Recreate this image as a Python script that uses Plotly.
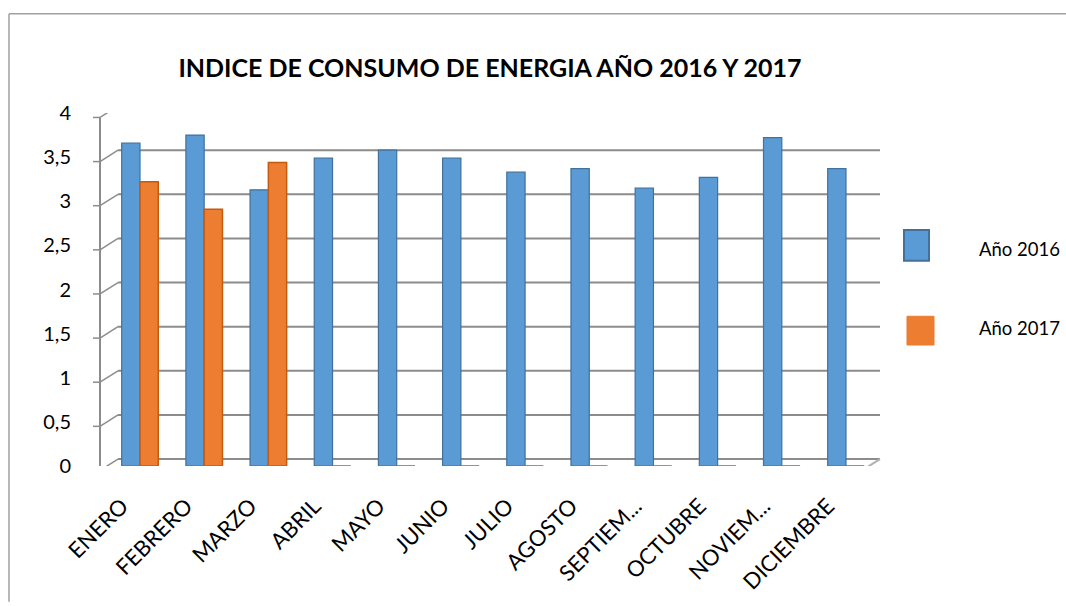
import plotly.graph_objects as go

months = ["ENERO", "FEBRERO", "MARZO", "ABRIL", "MAYO", "JUNIO", "JULIO",
          "AGOSTO", "SEPTIEM...", "OCTUBRE", "NOVIEM...", "DICIEMBRE"]
y2016 = [3.66, 3.75, 3.13, 3.49, 3.58, 3.49, 3.33, 3.37, 3.15, 3.27, 3.72, 3.37]
y2017 = [3.22, 2.91, 3.44, 0, 0, 0, 0, 0, 0, 0, 0, 0]
yticks = [0, 0.5, 1, 1.5, 2, 2.5, 3, 3.5, 4]
series_names = ["Año 2016", "Año 2017"]
title_text = "INDICE DE CONSUMO DE ENERGIA AÑO 2016 Y 2017"

W, H = 1066, 606
L, R, T, B = 100, 186, 113, 137
PW = W - L - R
PH = H - T - B
YMAX = 4
PXU = PH / YMAX          # pixels per y unit

def px(x):
    return (x - L) / PW

def py(y):
    return (H - B - y) / PH

DX = 18                  # 3D depth offset (pixels)
BACK = 7 / PXU           # back wall offset in y units
FRONT = -4.5 / PXU       # front plane offset in y units
GRID = "#8c8c8c"

BLUE, BLUE_LINE = "#5B9BD5", "#41719C"
ORANGE, ORANGE_LINE = "#ED7D31", "#C55A11"

fig = go.Figure()
fig.add_trace(go.Bar(x=months, y=y2016, name=series_names[0],
                     marker=dict(color=BLUE, line=dict(color=BLUE_LINE, width=1.2))))
fig.add_trace(go.Bar(x=months, y=y2017, name=series_names[1],
                     marker=dict(color=ORANGE, line=dict(color=ORANGE_LINE, width=1.5))))

shapes = []
for v in yticks:
    shapes.append(dict(type="line", xref="paper", yref="y", layer="below",
                       x0=px(L + DX), x1=1, y0=v + BACK, y1=v + BACK,
                       line=dict(color=GRID, width=2)))
    shapes.append(dict(type="line", xref="paper", yref="y", layer="below",
                       x0=0, x1=px(L + DX), y0=v + FRONT, y1=v + BACK,
                       line=dict(color=GRID, width=1.5)))
    shapes.append(dict(type="line", xref="paper", yref="y", layer="below",
                       x0=px(L - 7), x1=0, y0=v + FRONT, y1=v + FRONT,
                       line=dict(color=GRID, width=1.5)))
shapes.append(dict(type="line", xref="paper", yref="y", layer="below",
                   x0=0, x1=0, y0=FRONT, y1=YMAX + FRONT,
                   line=dict(color=GRID, width=2)))
shapes.append(dict(type="line", xref="paper", yref="y", layer="below",
                   x0=0, x1=px(W - R - DX), y0=FRONT, y1=FRONT,
                   line=dict(color=GRID, width=2)))
shapes.append(dict(type="line", xref="paper", yref="y", layer="below",
                   x0=px(W - R - DX), x1=1, y0=FRONT, y1=BACK,
                   line=dict(color="#b0b0b0", width=2)))
for k in range(len(months) + 1):
    xb = k - 0.5 - 0.14
    shapes.append(dict(type="line", xref="x", yref="y", layer="below",
                       x0=xb, x1=xb, y0=FRONT, y1=FRONT - 8 / PXU,
                       line=dict(color=GRID, width=1.5)))
shapes.append(dict(type="line", xref="paper", yref="paper",
                   x0=px(9), x1=px(W), y0=py(13), y1=py(13),
                   line=dict(color="#a0a0a0", width=1.5)))
shapes.append(dict(type="line", xref="paper", yref="paper",
                   x0=px(9), x1=px(9), y0=py(13), y1=py(H),
                   line=dict(color="#a0a0a0", width=1.5)))
shapes.append(dict(type="rect", xref="paper", yref="paper",
                   x0=px(904), x1=px(929), y0=py(231), y1=py(262),
                   fillcolor=BLUE, line=dict(color=BLUE_LINE, width=2)))
shapes.append(dict(type="rect", xref="paper", yref="paper",
                   x0=px(907), x1=px(934), y0=py(318), y1=py(347),
                   fillcolor=ORANGE, line=dict(color=ORANGE, width=1)))

annotations = [
    dict(text=series_names[0], xref="paper", yref="paper", x=px(977), y=py(250),
         xanchor="left", yanchor="middle", showarrow=False,
         font=dict(family="Lato", size=18.5, color="#000000")),
    dict(text=series_names[1], xref="paper", yref="paper", x=px(977), y=py(330),
         xanchor="left", yanchor="middle", showarrow=False,
         font=dict(family="Lato", size=18.5, color="#000000")),
]

fig.update_layout(
    width=W, height=H,
    margin=dict(l=L, r=R, t=T, b=B, pad=0),
    paper_bgcolor="white", plot_bgcolor="rgba(0,0,0,0)",
    separators=",.",
    barmode="group", bargap=0.43, bargroupgap=0,
    showlegend=False,
    title=dict(text="<b>" + title_text + "</b>", xref="container", x=490 / W,
               xanchor="center", y=1 - 68 / H, yanchor="middle",
               font=dict(family="Lato", size=25, color="#000000")),
    shapes=shapes, annotations=annotations,
    font=dict(family="Lato", color="#000000"),
)
fig.update_xaxes(range=[-0.623, 11.53], showgrid=False, showline=False,
                 zeroline=False, ticks="", tickangle=-45,
                 ticklabelstandoff=22, ticklabelshift=-18,
                 tickfont=dict(family="Lato", size=22, color="#000000"))
fig.update_yaxes(range=[0, YMAX], tickvals=yticks, showgrid=False, zeroline=False,
                 showline=False, ticks="", ticklabelstandoff=28,
                 tickfont=dict(family="Lato", size=20, color="#000000"))

fig.write_html("out.html", config={"displayModeBar": False},
               post_script="document.body.style.margin='0';")
